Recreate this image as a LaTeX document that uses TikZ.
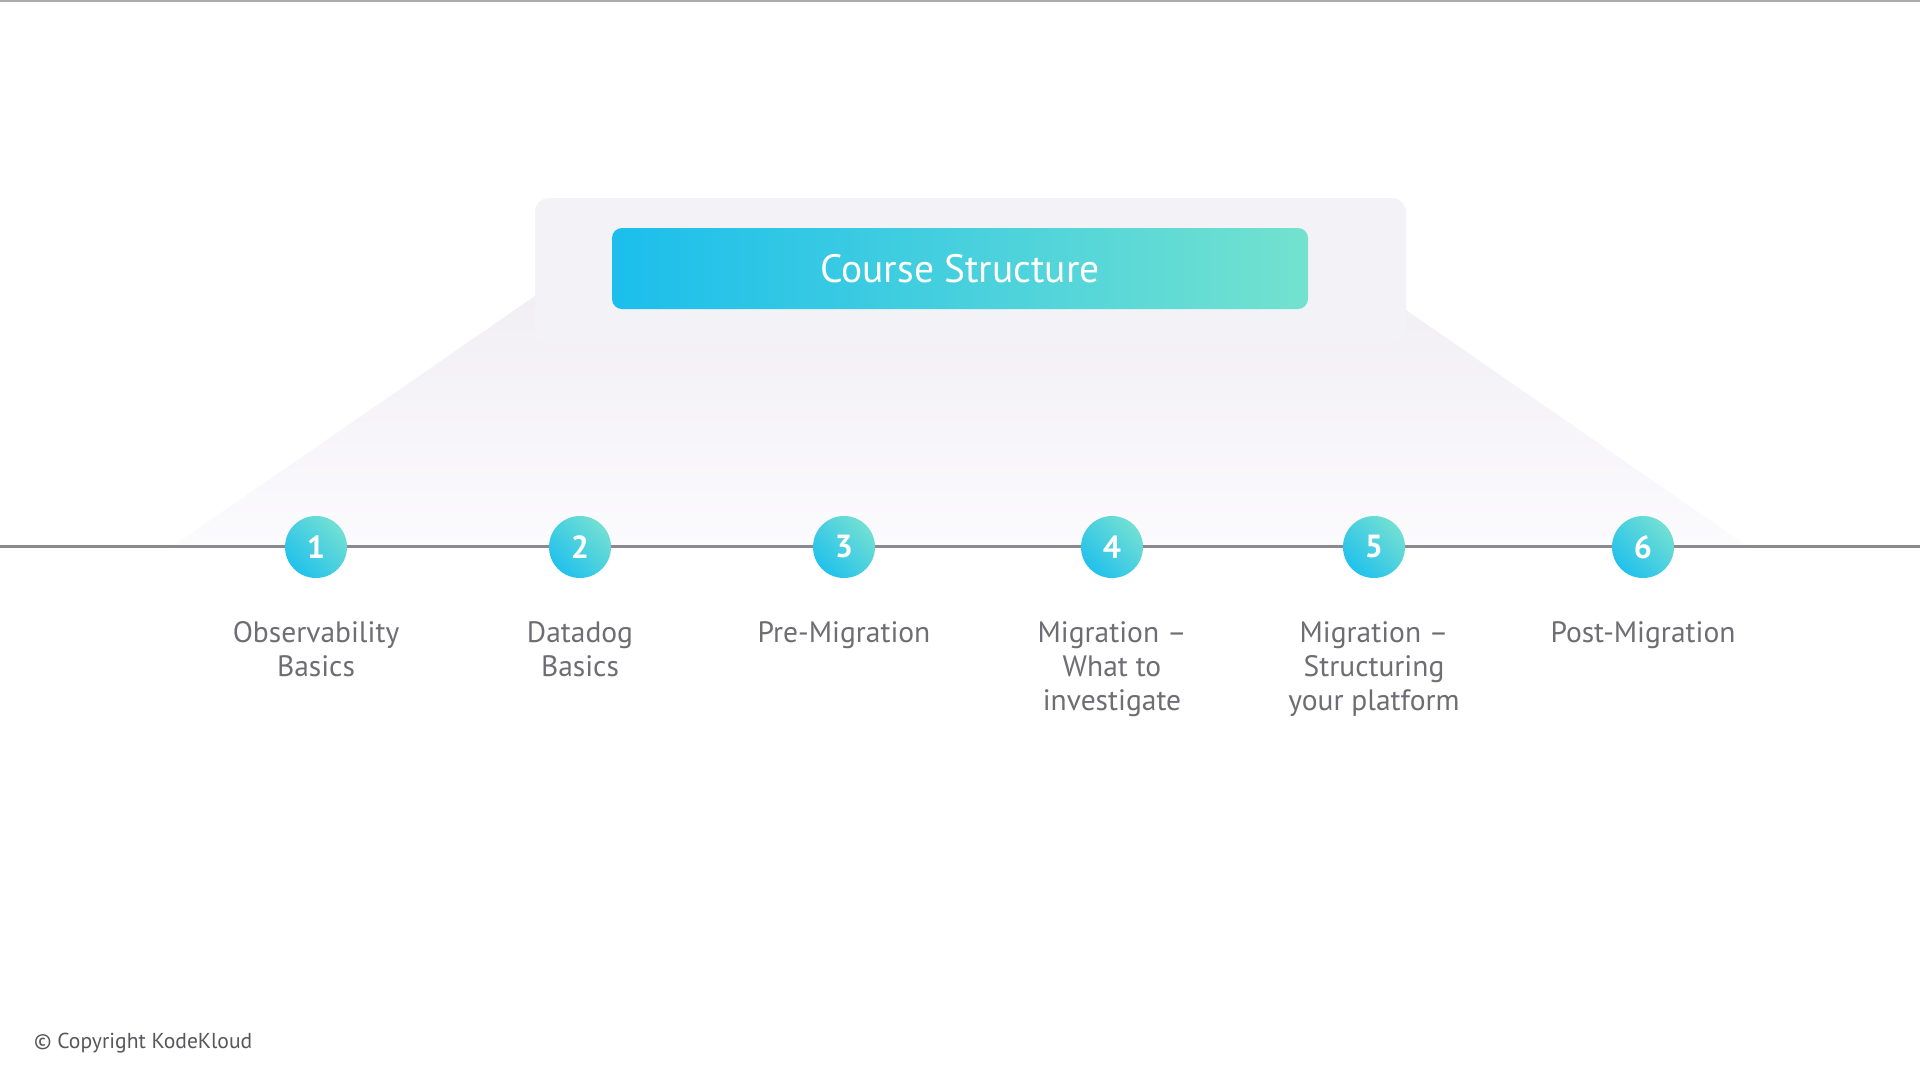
\documentclass[tikz,border=0pt]{standalone}
\usepackage{fontspec}
\setmainfont{PT Sans}
\usetikzlibrary{positioning}

\definecolor{panelgray}{HTML}{F3F2F7}
\definecolor{fadetop}{HTML}{F1EFF4}
\definecolor{fadebot}{HTML}{FBFAFD}
\definecolor{btnleft}{HTML}{1BBEEC}
\definecolor{btnright}{HTML}{73E2CF}
\definecolor{cirlow}{HTML}{22C1EC}
\definecolor{cirhigh}{HTML}{72DFD3}
\definecolor{linegray}{HTML}{8A898E}
\definecolor{labelgray}{HTML}{6E6D73}
\definecolor{copygray}{HTML}{58575C}

\tikzset{
  stepdot/.style={circle, minimum size=62pt, inner sep=0pt,
    top color=cirhigh, bottom color=cirlow, shading angle=-45,
    text=white, font=\fontsize{32}{32}\selectfont\bfseries},
  steplabel/.style={anchor=north, align=center, inner sep=0pt,
    text=labelgray, font=\fontsize{29.5}{34}\selectfont},
}

\begin{document}
\begin{tikzpicture}[x=1pt, y=-1pt]
    \useasboundingbox[fill=white] (0,0) rectangle (1920,1080);
    \draw[line width=1.5pt, color=black!33] (0,0.75) -- (1920,0.75); % top edge

    % faded trapezoid behind the header
    \shade[top color=fadetop, bottom color=fadebot]
        (535,296) -- (173,546) -- (1747,546) -- (1406,310) -- (1406,300) -- (535,300) -- cycle;
    \node[fill=panelgray, rounded corners=14pt, minimum width=871pt, minimum height=145pt]
        (panel) at (970.5,270.5) {}; % header panel
    \node[left color=btnleft, right color=btnright, rounded corners=10pt,
          minimum width=696pt, minimum height=81pt, text=white,
          font=\fontsize{39.5}{39.5}\selectfont]
        (course) at (960,268.5) {\raisebox{-3pt}{Course Structure}}; % title bar

    % timeline
    \coordinate (tl-w) at (0,546);
    \coordinate (tl-e) at (1920,546);
    \draw[linegray, line width=3pt] (tl-w) -- (tl-e);

    \foreach \i/\x/\txt in {1/316/{Observability\\Basics},
                            2/580/{Datadog\\Basics},
                            3/844/{Pre-Migration},
                            4/1112/{Migration –\\What to\\investigate},
                            5/1374/{Migration –\\Structuring\\your platform},
                            6/1643/{Post-Migration}} {
        \node[stepdot] (c\i) at (\x,547) {\i}; % step number
        \node[steplabel, below=43pt of c\i] (l\i) {\txt}; % step name
    }

    \node[anchor=west, inner sep=0pt, text=copygray, font=\fontsize{21.6}{21.6}\selectfont]
        (copy) at (34,1043) {© Copyright KodeKloud};
\end{tikzpicture}
\end{document}
